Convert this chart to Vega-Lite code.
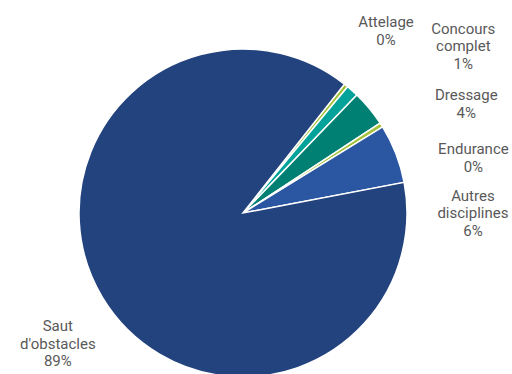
{
  "$schema": "https://vega.github.io/schema/vega-lite/v6.json",
  "width": 486,
  "height": 322,
  "autosize": {"type": "none"},
  "padding": {"left": 0, "right": 26, "top": 52, "bottom": 0},
  "background": "white",
  "view": {"stroke": null},
  "data": {
    "values": [
      {"cat": "Attelage", "value": 0.4, "rank": 1, "label": "Attelage\n0%"},
      {"cat": "Concours complet", "value": 1.2, "rank": 2, "label": "Concours\ncomplet\n1%"},
      {"cat": "Dressage", "value": 3.55, "rank": 3, "label": "Dressage\n4%"},
      {"cat": "Endurance", "value": 0.45, "rank": 4, "label": "Endurance\n0%"},
      {"cat": "Autres disciplines", "value": 5.8, "rank": 5, "label": "Autres\ndisciplines\n6%"},
      {"cat": "Saut d'obstacles", "value": 88.6, "rank": 6, "label": "Saut\nd'obstacles\n89%"}
    ]
  },
  "encoding": {
    "theta": {"field": "value", "type": "quantitative", "stack": true, "scale": {"range": [0.6667, 6.9499]}},
    "order": {"field": "rank", "type": "quantitative"},
    "detail": {"field": "cat", "type": "nominal"}
  },
  "layer": [
    {
      "mark": {"type": "arc", "outerRadius": 164, "stroke": "white", "strokeWidth": 1.5},
      "encoding": {
        "color": {
          "field": "cat",
          "type": "nominal",
          "scale": {
            "domain": ["Attelage", "Concours complet", "Dressage", "Endurance", "Autres disciplines", "Saut d'obstacles"],
            "range": ["#a3c13a", "#00a29a", "#007f73", "#a3c13a", "#2a56a2", "#23437e"]
          },
          "legend": null
        }
      }
    },
    {
      "mark": {"type": "text", "radius": 164, "dx": 40, "dy": -63, "font": "Roboto", "fontSize": 15, "lineHeight": 17.5, "lineBreak": "\n", "color": "#595959", "align": "center", "baseline": "middle"},
      "encoding": {"text": {"condition": {"test": "datum.cat === 'Attelage'", "field": "label"}, "value": ""}}
    },
    {
      "mark": {"type": "text", "radius": 164, "dx": 111, "dy": -62, "font": "Roboto", "fontSize": 15, "lineHeight": 17.5, "lineBreak": "\n", "color": "#595959", "align": "center", "baseline": "middle"},
      "encoding": {"text": {"condition": {"test": "datum.cat === 'Concours complet'", "field": "label"}, "value": ""}}
    },
    {
      "mark": {"type": "text", "radius": 164, "dx": 97, "dy": -13, "font": "Roboto", "fontSize": 15, "lineHeight": 17.5, "lineBreak": "\n", "color": "#595959", "align": "center", "baseline": "middle"},
      "encoding": {"text": {"condition": {"test": "datum.cat === 'Dressage'", "field": "label"}, "value": ""}}
    },
    {
      "mark": {"type": "text", "radius": 164, "dx": 92, "dy": 24, "font": "Roboto", "fontSize": 15, "lineHeight": 17.5, "lineBreak": "\n", "color": "#595959", "align": "center", "baseline": "middle"},
      "encoding": {"text": {"condition": {"test": "datum.cat === 'Endurance'", "field": "label"}, "value": ""}}
    },
    {
      "mark": {"type": "text", "radius": 164, "dx": 77, "dy": 42, "font": "Roboto", "fontSize": 15, "lineHeight": 17.5, "lineBreak": "\n", "color": "#595959", "align": "center", "baseline": "middle"},
      "encoding": {"text": {"condition": {"test": "datum.cat === 'Autres disciplines'", "field": "label"}, "value": ""}}
    },
    {
      "mark": {"type": "text", "radius": 164, "dx": -45, "dy": 28, "font": "Roboto", "fontSize": 15, "lineHeight": 17.5, "lineBreak": "\n", "color": "#595959", "align": "center", "baseline": "middle"},
      "encoding": {"text": {"condition": {"test": "datum.cat === 'Saut d\\'obstacles'", "field": "label"}, "value": ""}}
    }
  ]
}
